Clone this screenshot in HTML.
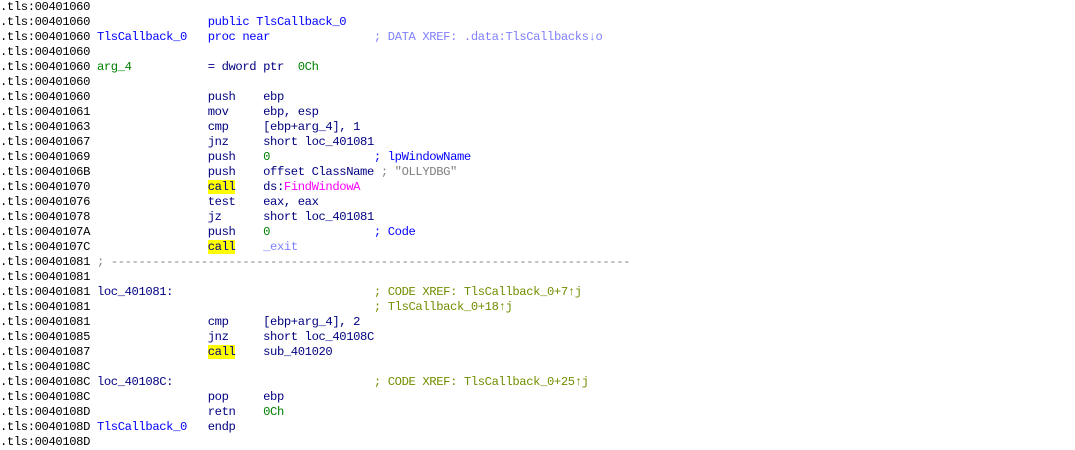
<!DOCTYPE html>
<html><head><meta charset="utf-8"><style>
html,body{margin:0;padding:0;background:#fff;width:1075px;height:447px;overflow:hidden}
pre{margin:0;position:absolute;left:0;top:0;font-family:"Liberation Mono",monospace;font-size:12.2px;letter-spacing:-0.39px;line-height:15px;color:#000}
.n{color:#000080}.b{color:#0000ff}.g{color:#008000}.p{color:#8080ff}.o{color:#6f8f00}.m{color:#ff00ff}.s{color:#808080}
.y{background:#ffff00;color:#000080}
</style></head><body>
<pre>.tls:00401060
.tls:00401060                 <span class="b">public TlsCallback_0</span>
.tls:00401060 <span class="b">TlsCallback_0</span>   <span class="b">proc near</span>               <span class="p">; DATA XREF: .data:TlsCallbacks↓o</span>
.tls:00401060
.tls:00401060 <span class="g">arg_4</span>           <span class="n">= dword ptr  </span><span class="g">0Ch</span>
.tls:00401060
.tls:00401060                 <span class="n">push    ebp</span>
.tls:00401061                 <span class="n">mov     ebp, esp</span>
.tls:00401063                 <span class="n">cmp     [ebp+arg_4], 1</span>
.tls:00401067                 <span class="n">jnz     short loc_401081</span>
.tls:00401069                 <span class="n">push    </span><span class="g">0</span>               <span class="b">; lpWindowName</span>
.tls:0040106B                 <span class="n">push    offset ClassName </span><span class="s">; "OLLYDBG"</span>
.tls:00401070                 <span class="y">call</span><span class="n">    ds:</span><span class="m">FindWindowA</span>
.tls:00401076                 <span class="n">test    eax, eax</span>
.tls:00401078                 <span class="n">jz      short loc_401081</span>
.tls:0040107A                 <span class="n">push    </span><span class="g">0</span>               <span class="b">; Code</span>
.tls:0040107C                 <span class="y">call</span>    <span class="p">_exit</span>
.tls:00401081 <span class="s">; ---------------------------------------------------------------------------</span>
.tls:00401081
.tls:00401081 <span class="n">loc_401081:</span>                             <span class="o">; CODE XREF: TlsCallback_0+7↑j</span>
.tls:00401081                                         <span class="o">; TlsCallback_0+18↑j</span>
.tls:00401081                 <span class="n">cmp     [ebp+arg_4], 2</span>
.tls:00401085                 <span class="n">jnz     short loc_40108C</span>
.tls:00401087                 <span class="y">call</span><span class="n">    sub_401020</span>
.tls:0040108C
.tls:0040108C <span class="n">loc_40108C:</span>                             <span class="o">; CODE XREF: TlsCallback_0+25↑j</span>
.tls:0040108C                 <span class="n">pop     ebp</span>
.tls:0040108D                 <span class="n">retn    </span><span class="g">0Ch</span>
.tls:0040108D <span class="b">TlsCallback_0</span>   <span class="n">endp</span>
.tls:0040108D</pre>
</body></html>
